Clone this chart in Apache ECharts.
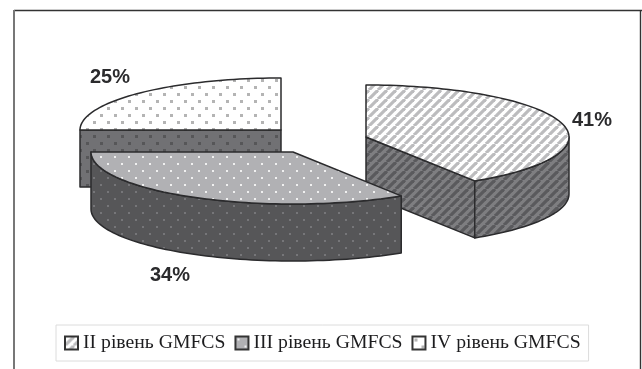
<!DOCTYPE html>
<html>
<head>
<meta charset="utf-8">
<title>GMFCS</title>
<style>
    html, body { margin: 0; padding: 0; background: #fff; }
    #chart { width: 642px; height: 369px; }
</style>
<script src="https://cdn.jsdelivr.net/npm/echarts@6/dist/echarts.min.js"></script>
</head>
<body>
<div id="chart"></div>
<script>
    const levels = ['II рівень GMFCS', 'III рівень GMFCS', 'IV рівень GMFCS']
    const shares = [41, 34, 25]

    // exploded 3d pie layout, same order as levels
    const centers = [[366, 137], [293, 152], [281, 130]]
    const radiusX = [203, 202, 201]
    const radiusY = 52
    const depth = 57
    const labelPos = [[592, 120], [170, 275], [110, 77]]
    const stack = [2, 3, 1]

    const EDGE = '#2b2b2d'

    function hatch(back, line) {
        const size = 9
        const c = document.createElement('canvas')
        c.width = size
        c.height = size
        const g = c.getContext('2d')
        g.fillStyle = back
        g.fillRect(0, 0, size, size)
        g.strokeStyle = line
        g.lineWidth = 3.2
        for (let i = -size; i <= size; i += size) {
            g.beginPath()
            g.moveTo(i, size)
            g.lineTo(i + size, 0)
            g.stroke()
        }
        return { image: c, repeat: 'repeat' }
    }

    function dots(back, dot, dotSize) {
        const size = 14
        const c = document.createElement('canvas')
        c.width = size
        c.height = size
        const g = c.getContext('2d')
        g.fillStyle = back
        g.fillRect(0, 0, size, size)
        g.fillStyle = dot
        g.fillRect(2, 2, dotSize, dotSize)
        g.fillRect(9, 9, dotSize, dotSize)
        return { image: c, repeat: 'repeat' }
    }

    const topFill = [hatch('#ffffff', '#bcbcbe'), dots('#b1b1b4', '#f0f0f0', 2), dots('#ffffff', '#b4b4b4', 3)]
    const sideFill = [hatch('#7e7e81', '#5a5a5d'), dots('#565658', '#767679', 2), dots('#717174', '#565658', 3)]

    const total = shares.reduce((a, b) => a + b, 0)

    function sliceAngles(i) {
        let from = 0
        for (let k = 0; k < i; k++) {
            from += shares[k]
        }
        return [from / total * 2 * Math.PI, (from + shares[i]) / total * 2 * Math.PI]
    }

    function arcPoints(i, a0, a1) {
        const pts = []
        const steps = Math.max(2, Math.ceil(Math.abs(a1 - a0) / 0.03))
        for (let s = 0; s <= steps; s++) {
            const a = a0 + (a1 - a0) * s / steps
            pts.push([centers[i][0] + radiusX[i] * Math.sin(a), centers[i][1] - radiusY * Math.cos(a)])
        }
        return pts
    }

    function drop(pts) {
        return pts.map(p => [p[0], p[1] + depth]).reverse()
    }

    function face(points, fill) {
        return {
            type: 'polygon',
            shape: { points: points },
            style: { fill: fill, stroke: EDGE, lineWidth: 1.5, lineJoin: 'round' }
        }
    }

    function renderSlice(i) {
        return function (params, api) {
            const [a0, a1] = sliceAngles(i)
            const center = centers[i]
            const children = []

            // radial faces, only those turned to the viewer
            const visible = a => Math.cos(a) < -1e-6
            ;[[a0, a0 - Math.PI / 2], [a1, a1 + Math.PI / 2]].forEach(([edge, normal]) => {
                if (visible(normal)) {
                    const top = [center, arcPoints(i, edge, edge)[0]]
                    children.push(face(top.concat(drop(top)), sideFill[i]))
                }
            })

            // outer wall, front half of the ellipse only
            const w0 = Math.max(a0, Math.PI / 2)
            const w1 = Math.min(a1, Math.PI * 1.5)
            if (w1 > w0) {
                const top = arcPoints(i, w0, w1)
                children.push(face(top.concat(drop(top)), sideFill[i]))
            }

            children.push(face([center].concat(arcPoints(i, a0, a1)), topFill[i]))

            children.push({
                type: 'text',
                x: labelPos[i][0],
                y: labelPos[i][1],
                style: {
                    text: api.value(0) + '%',
                    fill: '#2b2b2d',
                    font: 'bold 20px "Liberation Sans", Arial, sans-serif',
                    align: 'center',
                    verticalAlign: 'middle'
                }
            })
            return { type: 'group', children: children }
        }
    }

    const chart = echarts.init(document.getElementById('chart'))

    chart.setOption({
        animation: false,
        legend: {
            left: 56,
            top: 325,
            padding: [8, 8, 8, 8],
            itemGap: 9,
            itemWidth: 13,
            itemHeight: 13,
            icon: 'rect',
            borderColor: '#dcdcdc',
            borderWidth: 1,
            textStyle: {
                color: '#1d1d1f',
                fontSize: 19.7,
                fontFamily: '"Liberation Serif", "Times New Roman", serif'
            },
            data: levels
        },
        graphic: [
            { type: 'line', shape: { x1: 14, y1: 10.5, x2: 642, y2: 10.5 }, style: { stroke: '#333', lineWidth: 1.4 } },
            { type: 'line', shape: { x1: 14, y1: 10, x2: 14, y2: 369 }, style: { stroke: '#777', lineWidth: 2 } },
            { type: 'line', shape: { x1: 640.5, y1: 10, x2: 640.5, y2: 369 }, style: { stroke: '#333', lineWidth: 1.4 } }
        ],
        series: levels.map((name, i) => ({
            name: name,
            type: 'custom',
            coordinateSystem: 'none',
            z: stack[i],
            itemStyle: { color: topFill[i], borderColor: '#333', borderWidth: 2 },
            renderItem: renderSlice(i),
            data: [shares[i]]
        }))
    })
</script>
</body>
</html>
